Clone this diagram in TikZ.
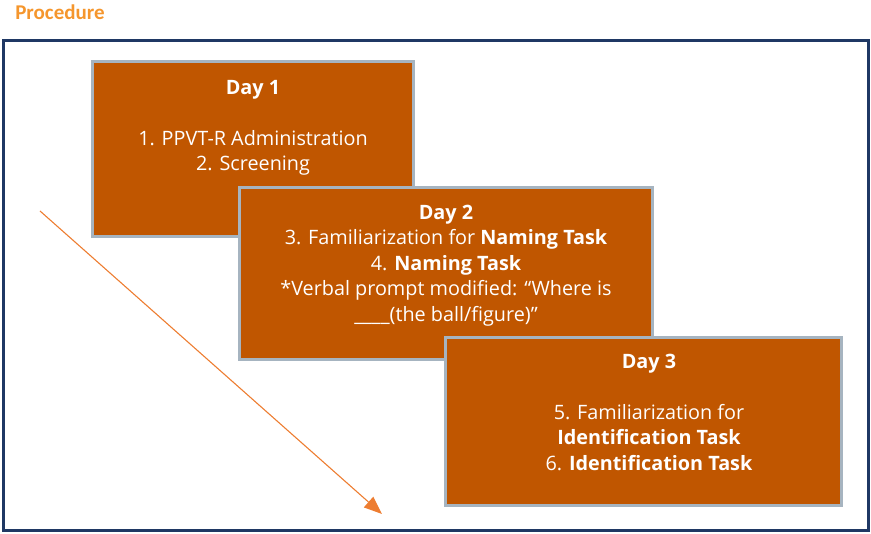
\documentclass[tikz,border=0pt]{standalone}
\usepackage{fontspec}
\setmainfont{Open Sans}
\newfontfamily\titlefont{Carlito}
\usetikzlibrary{arrows.meta}
\definecolor{dayfill}{RGB}{192,86,0}
\definecolor{dayedge}{RGB}{166,180,192}
\definecolor{framenavy}{RGB}{31,56,100}
\definecolor{arroworange}{RGB}{237,125,49}
\definecolor{titleorange}{RGB}{245,150,45}
\tikzset{
	daybox/.style={draw=dayedge, fill=dayfill, line width=3pt, inner sep=0pt},
	daytext/.style={text=white, align=center, font=\fontsize{19.8}{25.5}\selectfont},
}
\begin{document}
\begin{tikzpicture}[x=1pt,y=1pt]
	\useasboundingbox (0,0) rectangle (871,534);
	
	% Titel
	\node[text=titleorange, font=\titlefont\fontsize{21}{24}\selectfont\bfseries] (title) at (60,522) {Procedure};
	
	% Rahmen
	\draw[framenavy, line width=3pt] (3,3) rectangle (868,493);
	
	% Zeitpfeil
	\coordinate (arrowstart) at (40,323);
	\coordinate (arrowend) at (382,20);
	\draw[arroworange, line width=1.1pt, -{Triangle[length=18pt,width=14pt]}] (arrowstart) -- (arrowend);
	
	% Tag 1
	\node[daybox, minimum width=321pt, minimum height=175pt] (day1) at (252.5,384.5) {};
	\node[daytext] (day1txt) at (253,406) {\textbf{Day 1}\\ \\ 1. PPVT-R Administration\\ 2. Screening};
	
	% Tag 2
	\node[daybox, minimum width=413pt, minimum height=172pt] (day2) at (445.5,260) {};
	\node[daytext] (day2txt) at (446,268.5) {\textbf{Day 2}\\ 3. Familiarization for \textbf{Naming Task}\\ 4. \textbf{Naming Task}\\ *Verbal prompt modified: “Where is\\ \_\_\_\_(the ball/figure)”};
	
	% Tag 3
	\node[daybox, minimum width=396pt, minimum height=168pt] (day3) at (643,112) {};
	\node[daytext] (day3txt) at (649,122) {\textbf{Day 3}\\ \\ 5. Familiarization for\\ \textbf{Identification Task}\\ 6. \textbf{Identification Task}};
\end{tikzpicture}
\end{document}
